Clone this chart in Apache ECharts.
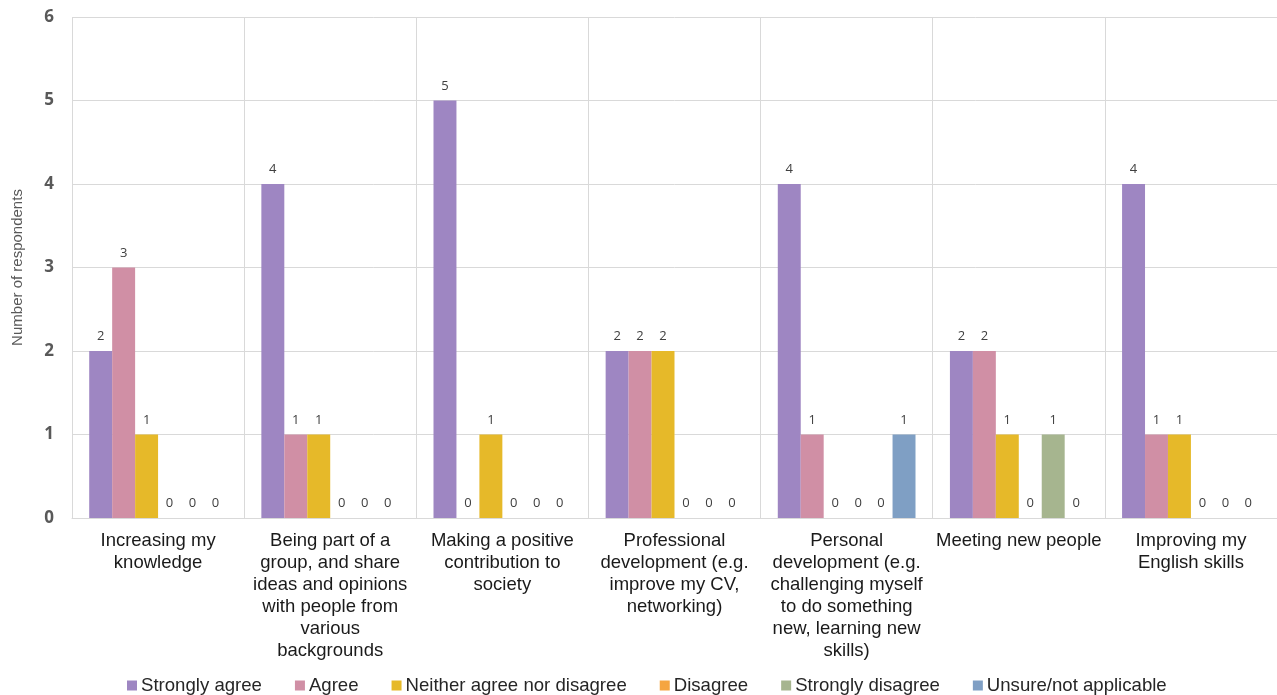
<!DOCTYPE html>
<html>
<head>
<meta charset="utf-8">
<script src="https://cdn.jsdelivr.net/npm/echarts@6/dist/echarts.min.js"></script>
<style>
  html, body { margin: 0; padding: 0; background: #ffffff; }
  #chart { width: 1277px; height: 695px; }
</style>
</head>
<body>
<div id="chart"></div>
<script>
// Motivations for taking part, by level of agreement
const categories = [
  'Increasing my\nknowledge',
  'Being part of a\ngroup, and share\nideas and opinions\nwith people from\nvarious\nbackgrounds',
  'Making a positive\ncontribution to\nsociety',
  'Professional\ndevelopment (e.g.\nimprove my CV,\nnetworking)',
  'Personal\ndevelopment (e.g.\nchallenging myself\nto do something\nnew, learning new\nskills)',
  'Meeting new people',
  'Improving my\nEnglish skills'
];

const seriesNames = [
  'Strongly agree',
  'Agree',
  'Neither agree nor disagree',
  'Disagree',
  'Strongly disagree',
  'Unsure/not applicable'
];

const stronglyAgree    = [2, 4, 5, 2, 4, 2, 4];
const agree            = [3, 1, 0, 2, 1, 2, 1];
const neither          = [1, 1, 1, 2, 0, 1, 1];
const disagree         = [0, 0, 0, 0, 0, 0, 0];
const stronglyDisagree = [0, 0, 0, 0, 0, 1, 0];
const unsure           = [0, 0, 0, 0, 1, 0, 0];

const seriesValues = [stronglyAgree, agree, neither, disagree, stronglyDisagree, unsure];
const colors = ['#9e86c2', '#d08fa5', '#e6b929', '#f5a540', '#a6b58f', '#7f9fc4'];

const yTicks = [0, 1, 2, 3, 4, 5, 6];

const chart = echarts.init(document.getElementById('chart'), null, { renderer: 'canvas' });

chart.setOption({
  animation: false,
  color: colors,
  grid: { left: 72, right: 0, top: 17, bottom: 177, containLabel: false },
  legend: {
    top: 676,
    left: 127,
    padding: 0,
    icon: 'rect',
    itemWidth: 10,
    itemHeight: 10,
    itemGap: 33,
    textStyle: { fontFamily: 'Liberation Sans, Arial, sans-serif', fontSize: 18.6, color: '#262626', padding: [0, 0, 0, -1] },
    data: seriesNames
  },
  xAxis: {
    type: 'category',
    data: categories,
    axisTick: { show: false },
    axisLine: { show: true, lineStyle: { color: '#d9d9d9', width: 1 } },
    splitLine: { show: true, interval: 0, lineStyle: { color: '#d9d9d9', width: 1 } },
    axisLabel: {
      interval: 0,
      margin: 12,
      fontFamily: 'Liberation Sans, Arial, sans-serif',
      fontSize: 18.5,
      lineHeight: 22,
      color: '#1a1a1a',
      align: 'center'
    }
  },
  yAxis: {
    type: 'value',
    min: yTicks[0],
    max: yTicks[yTicks.length - 1],
    interval: 1,
    name: 'Number of respondents',
    nameLocation: 'middle',
    nameGap: 47,
    nameRotate: 90,
    nameTextStyle: { fontFamily: 'Liberation Sans, Arial, sans-serif', fontSize: 15, color: '#595959' },
    axisLine: { show: false },
    axisTick: { show: false },
    splitLine: { show: true, lineStyle: { color: '#d9d9d9', width: 1 } },
    axisLabel: {
      margin: 18,
      fontFamily: 'Open Sans, Noto Sans, sans-serif',
      fontWeight: 'bold',
      fontSize: 17,
      color: '#595959'
    }
  },
  series: seriesNames.map((name, i) => ({
    name: name,
    type: 'bar',
    data: seriesValues[i],
    barGap: '0%',
    barCategoryGap: '20%',
    itemStyle: { color: colors[i] },
    label: {
      show: true,
      position: 'top',
      distance: 8,
      fontFamily: 'Open Sans, Noto Sans, sans-serif',
      fontSize: 13,
      color: '#404040'
    }
  }))
});
</script>
</body>
</html>
